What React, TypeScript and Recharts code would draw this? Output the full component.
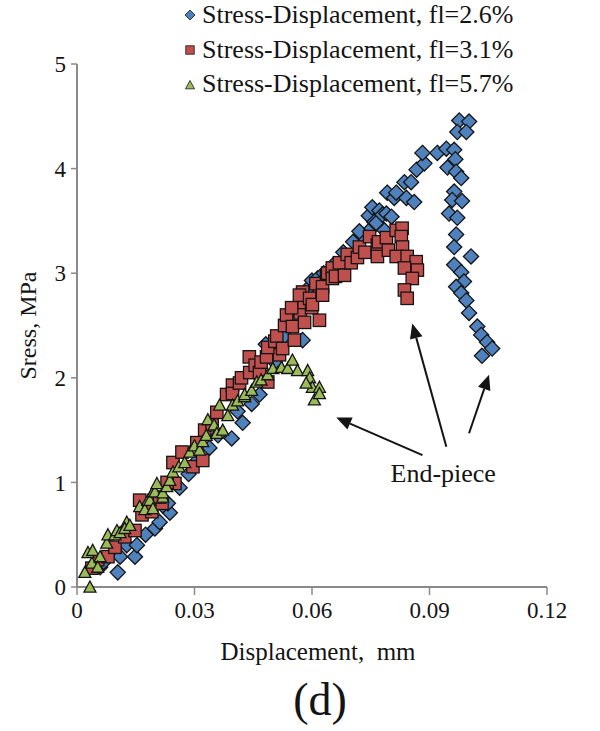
import React from "react";
import {
  ScatterChart,
  Scatter,
  XAxis,
  YAxis,
  Legend,
  ReferenceLine,
  ReferenceDot,
} from "recharts";

const SERIF = "'Liberation Serif', 'Times New Roman', serif";
const AXIS_GRAY = "#8a8a8a";
const INK = "#141414";

const xTicks = [0, 0.03, 0.06, 0.09, 0.12];
const yTicks = [0, 1, 2, 3, 4, 5];

const seriesNames = [
  "Stress-Displacement, fl=2.6%",
  "Stress-Displacement, fl=3.1%",
  "Stress-Displacement, fl=5.7%",
];

// [displacement mm, stress MPa]
const fl26: [number, number][] = [
  [0.0059, 0.19], [0.0068, 0.24], [0.0104, 0.14], [0.011, 0.29], [0.0148, 0.29],
  [0.0127, 0.4], [0.0153, 0.4], [0.0175, 0.5], [0.0199, 0.56], [0.0211, 0.62],
  [0.0237, 0.71], [0.0219, 0.78], [0.0232, 0.8], [0.0262, 0.95], [0.0285, 1.08],
  [0.031, 1.22], [0.0338, 1.33], [0.036, 1.45], [0.0395, 1.42], [0.0423, 1.57],
  [0.041, 1.68], [0.0446, 1.75], [0.0466, 1.84], [0.048, 2.0], [0.0482, 2.32],
  [0.0505, 2.15], [0.053, 2.4], [0.0576, 2.36], [0.056, 2.55], [0.0594, 2.87],
  [0.06, 2.93], [0.0614, 2.95], [0.063, 3.0], [0.0655, 3.08], [0.068, 3.2],
  [0.0705, 3.3], [0.0726, 3.37], [0.0721, 3.4], [0.0745, 3.55], [0.0752, 3.43],
  [0.0759, 3.49], [0.0764, 3.48], [0.0754, 3.63], [0.0772, 3.6], [0.078, 3.56],
  [0.0785, 3.41], [0.079, 3.57], [0.0792, 3.77], [0.0803, 3.54], [0.081, 3.72],
  [0.0815, 3.77], [0.0836, 3.87], [0.0841, 3.72], [0.0853, 3.87], [0.0861, 3.68],
  [0.0867, 3.99], [0.0887, 4.05], [0.0882, 4.15], [0.092, 4.15], [0.0943, 4.19],
  [0.0963, 4.18], [0.0966, 4.09], [0.0946, 4.01], [0.0968, 3.97], [0.0981, 3.91],
  [0.0976, 4.46], [0.1001, 4.45], [0.0971, 4.35], [0.0994, 4.35], [0.0963, 3.78],
  [0.0958, 3.7], [0.0983, 3.69], [0.095, 3.57], [0.0971, 3.53], [0.0968, 3.37],
  [0.0963, 3.25], [0.1006, 3.16], [0.0963, 3.08], [0.0981, 3.01], [0.0988, 2.92],
  [0.0968, 2.87], [0.0981, 2.81], [0.0994, 2.74], [0.1001, 2.62], [0.1022, 2.49],
  [0.1032, 2.41], [0.1047, 2.34], [0.106, 2.28], [0.1034, 2.21],
];

const fl31: [number, number][] = [
  [0.0038, 0.18], [0.0053, 0.26], [0.0079, 0.29], [0.0097, 0.38], [0.0122, 0.48],
  [0.0148, 0.54], [0.0166, 0.69], [0.0191, 0.72], [0.0217, 0.8], [0.016, 0.83],
  [0.0211, 0.86], [0.025, 0.99], [0.023, 1.0], [0.0245, 1.19], [0.0268, 1.29],
  [0.0296, 1.15], [0.0321, 1.21], [0.0306, 1.38], [0.0326, 1.5], [0.0357, 1.67],
  [0.0345, 1.55], [0.0382, 1.84], [0.0397, 1.93], [0.0397, 1.85], [0.0415, 1.95],
  [0.042, 2.0], [0.0441, 2.05], [0.044, 2.2], [0.0455, 2.12], [0.0466, 2.05],
  [0.047, 2.15], [0.0487, 1.96], [0.0484, 2.2], [0.0517, 2.22], [0.0487, 2.29],
  [0.0505, 2.35], [0.051, 2.4], [0.0525, 2.28], [0.053, 2.5], [0.0535, 2.6],
  [0.0555, 2.36], [0.055, 2.49], [0.057, 2.62], [0.0581, 2.53], [0.0548, 2.67],
  [0.058, 2.72], [0.0599, 2.67], [0.0619, 2.55], [0.0576, 2.82], [0.0619, 2.81],
  [0.061, 2.9], [0.0637, 2.97], [0.0568, 2.79], [0.0594, 2.76], [0.0601, 2.7],
  [0.0627, 2.87], [0.0627, 2.79], [0.064, 3.0], [0.0652, 3.05], [0.0652, 2.95],
  [0.066, 2.97], [0.067, 3.1], [0.0683, 2.98], [0.069, 3.18], [0.07, 3.1],
  [0.0716, 3.15], [0.0721, 3.25], [0.0735, 3.2], [0.0747, 3.35], [0.0767, 3.27],
  [0.077, 3.3], [0.0767, 3.16], [0.079, 3.34], [0.0795, 3.22], [0.0815, 3.41],
  [0.083, 3.43], [0.0828, 3.35], [0.0831, 3.25], [0.0815, 3.16], [0.0843, 3.16],
  [0.0866, 3.11], [0.0869, 3.03], [0.0836, 3.05], [0.0856, 2.95], [0.0836, 2.84],
  [0.0843, 2.76],
];

const fl57: [number, number][] = [
  [0.0033, 0.0], [0.002, 0.14], [0.0038, 0.23], [0.0028, 0.33], [0.004, 0.35],
  [0.0059, 0.29], [0.0053, 0.19], [0.0076, 0.42], [0.0079, 0.5], [0.0097, 0.5],
  [0.0102, 0.54], [0.011, 0.52], [0.0127, 0.62], [0.0122, 0.56], [0.0135, 0.59],
  [0.016, 0.77], [0.0173, 0.74], [0.0181, 0.83], [0.0186, 0.83], [0.0194, 0.75],
  [0.0194, 0.91], [0.0199, 0.91], [0.0204, 0.99], [0.0219, 0.86], [0.0219, 0.9],
  [0.0229, 0.96], [0.0237, 1.02], [0.0245, 1.1], [0.026, 1.15], [0.0275, 1.19],
  [0.0288, 1.29], [0.03, 1.35], [0.0313, 1.31], [0.0321, 1.39], [0.033, 1.45],
  [0.0334, 1.6], [0.035, 1.55], [0.0357, 1.47], [0.0372, 1.5], [0.0364, 1.74],
  [0.0385, 1.64], [0.0397, 1.74], [0.041, 1.78], [0.0428, 1.82], [0.0428, 1.84],
  [0.0446, 1.88], [0.0459, 1.96], [0.047, 1.98], [0.0487, 2.03], [0.05, 2.09],
  [0.0522, 2.1], [0.0538, 2.09], [0.055, 2.17], [0.0563, 2.07], [0.0589, 2.07],
  [0.0594, 2.0], [0.0601, 1.91], [0.0619, 1.91], [0.0585, 1.95], [0.0606, 1.79],
  [0.0619, 1.85],
];

// annotation arrows: [tail x, tail y, tip x, tip y]
const arrows: [number, number, number, number][] = [
  [0.0882, 1.26, 0.0662, 1.62],
  [0.0943, 1.34, 0.0856, 2.52],
  [0.1001, 1.47, 0.1052, 2.03],
];
const endPieceAt = { x: 0.0935, y: 1.09 };

const toPoints = (rows: [number, number][]) => rows.map(([x, y]) => ({ x, y }));

const COLORS = { blue: "#4F81BD", red: "#C0504D", green: "#9BBB59" };

function diamond(cx: number, cy: number, r: number, fill: string, sw = 1.3) {
  return (
    <polygon
      points={`${cx},${cy - r} ${cx + r},${cy} ${cx},${cy + r} ${cx - r},${cy}`}
      fill={fill}
      stroke={INK}
      strokeWidth={sw}
    />
  );
}

function square(cx: number, cy: number, h: number, fill: string, sw = 1.3) {
  return (
    <rect x={cx - h} y={cy - h} width={h * 2} height={h * 2} fill={fill} stroke={INK} strokeWidth={sw} />
  );
}

function triangle(cx: number, cy: number, h: number, fill: string, sw = 1.3) {
  return (
    <polygon
      points={`${cx},${cy - h} ${cx + h},${cy + h * 0.85} ${cx - h},${cy + h * 0.85}`}
      fill={fill}
      stroke={INK}
      strokeWidth={sw}
    />
  );
}

const DiamondDot = (p: any) => (p.cx == null ? null : diamond(p.cx, p.cy, 7.6, COLORS.blue));
const SquareDot = (p: any) => (p.cx == null ? null : square(p.cx, p.cy, 6.2, COLORS.red));
const TriangleDot = (p: any) => (p.cx == null ? null : triangle(p.cx, p.cy, 6, COLORS.green));

function ArrowShape(props: any) {
  const { x1, y1, x2, y2 } = props;
  if ([x1, y1, x2, y2].some((v) => v == null || Number.isNaN(v))) return null;
  const len = Math.hypot(x2 - x1, y2 - y1);
  const ux = (x2 - x1) / len;
  const uy = (y2 - y1) / len;
  const head = 15;
  const half = 6.5;
  const bx = x2 - ux * head;
  const by = y2 - uy * head;
  return (
    <g>
      <line x1={x1} y1={y1} x2={bx} y2={by} stroke={INK} strokeWidth={2} />
      <polygon
        points={`${x2},${y2} ${bx - uy * half},${by + ux * half} ${bx + uy * half},${by - ux * half}`}
        fill={INK}
      />
    </g>
  );
}

function LegendBox() {
  const markers = [
    diamond(8, 8, 5, COLORS.blue, 0.8),
    square(8, 8, 4.2, COLORS.red, 0.8),
    triangle(8, 9, 4.5, COLORS.green, 0.8),
  ];
  return (
    <div style={{ fontFamily: SERIF, fontSize: 26, lineHeight: "34.5px", color: INK, whiteSpace: "nowrap" }}>
      {seriesNames.map((name, i) => (
        <div key={name} style={{ display: "flex", alignItems: "center" }}>
          <svg width={16} height={16} style={{ marginRight: 4 }}>
            {markers[i]}
          </svg>
          <span>{name}</span>
        </div>
      ))}
    </div>
  );
}

function XTitle(props: any) {
  const vb = props.viewBox;
  if (!vb) return null;
  const cx = vb.x + vb.width / 2 + 6;
  return (
    <g fontFamily={SERIF} fill={INK} textAnchor="middle">
      <text x={cx} y={vb.y + 73} fontSize={25}>
        {"Displacement,\u00a0 mm"}
      </text>
      <text x={cx + 2} y={vb.y + 128} fontSize={46}>
        (d)
      </text>
    </g>
  );
}

function YTitle(props: any) {
  const vb = props.viewBox;
  if (!vb) return null;
  const x = vb.x + 36;
  const y = vb.y + vb.height / 2;
  return (
    <text
      x={x}
      y={y}
      transform={`rotate(-90, ${x}, ${y})`}
      textAnchor="middle"
      fontFamily={SERIF}
      fontSize={24}
      fill={INK}
    >
      Sress, MPa
    </text>
  );
}

export default function App() {
  const tickStyle = { fontSize: 23, fill: INK, fontFamily: SERIF };
  return (
    <div style={{ position: "absolute", left: 0, top: 0, width: 600, height: 731, background: "#fff" }}>
      <ScatterChart width={600} height={731} margin={{ top: 64, right: 53, bottom: 94, left: 0 }}>
        <XAxis
          type="number"
          dataKey="x"
          domain={[0, 0.12]}
          ticks={xTicks}
          interval={0}
          height={50}
          tick={tickStyle}
          tickSize={8}
          tickMargin={7}
          axisLine={{ stroke: AXIS_GRAY, strokeWidth: 2 }}
          tickLine={{ stroke: AXIS_GRAY, strokeWidth: 1.5 }}
          label={<XTitle />}
        />
        <YAxis
          type="number"
          dataKey="y"
          domain={[0, 5]}
          ticks={yTicks}
          interval={0}
          width={77}
          tick={tickStyle}
          tickSize={6}
          tickMargin={5}
          axisLine={{ stroke: AXIS_GRAY, strokeWidth: 2 }}
          tickLine={{ stroke: AXIS_GRAY, strokeWidth: 1.5 }}
          label={<YTitle />}
        />
        <Legend
          layout="vertical"
          align="center"
          verticalAlign="middle"
          wrapperStyle={{ top: -2, left: 182, width: 400 }}
          content={<LegendBox />}
        />
        <Scatter name={seriesNames[0]} data={toPoints(fl26)} shape={DiamondDot} isAnimationActive={false} />
        <Scatter name={seriesNames[1]} data={toPoints(fl31)} shape={SquareDot} isAnimationActive={false} />
        <Scatter name={seriesNames[2]} data={toPoints(fl57)} shape={TriangleDot} isAnimationActive={false} />
        {arrows.map(([tx, ty, hx, hy], i) => (
          <ReferenceLine
            key={i}
            segment={[
              { x: tx, y: ty },
              { x: hx, y: hy },
            ]}
            ifOverflow="visible"
            shape={ArrowShape}
          />
        ))}
        <ReferenceDot
          x={endPieceAt.x}
          y={endPieceAt.y}
          r={0}
          fill="none"
          stroke="none"
          label={{ value: "End-piece", position: "center", fontSize: 26, fill: INK, fontFamily: SERIF }}
        />
      </ScatterChart>
    </div>
  );
}
